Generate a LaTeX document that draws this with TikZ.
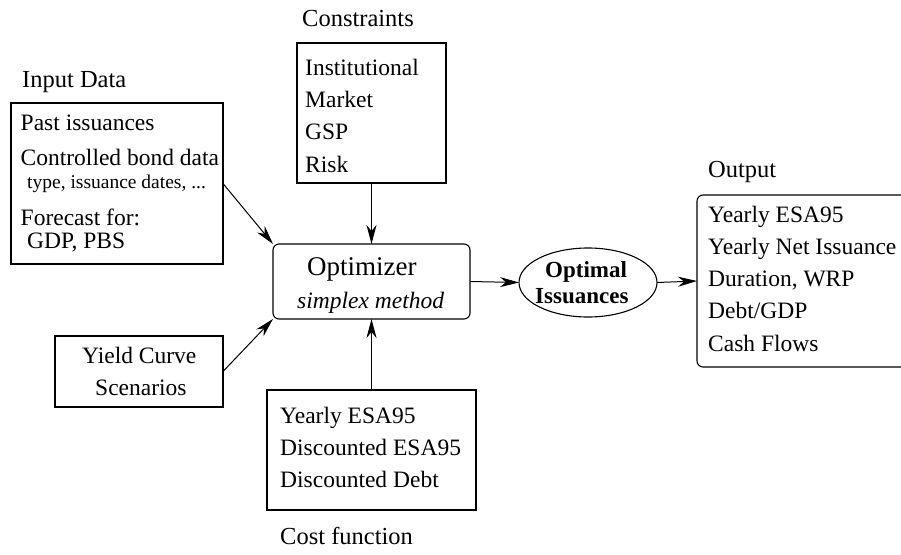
\documentclass[tikz,border=0pt]{standalone}
\usepackage{fontspec}
\setmainfont{Liberation Serif}
\usetikzlibrary{arrows.meta,shapes.geometric}

\tikzset{
  frame/.style={draw=black, line width=1.1pt, inner sep=0pt, outer sep=0pt},
  panel/.style={frame, rectangle},
  softpanel/.style={frame, rectangle, rounded corners=6pt},
  result/.style={frame, ellipse},
  txt/.style={anchor=base west, inner sep=0pt, font=\fontsize{23.5}{28}\selectfont},
  small/.style={anchor=base west, inner sep=0pt, font=\fontsize{19.5}{23}\selectfont},
  title/.style={anchor=base west, inner sep=0pt, font=\fontsize{24.5}{29}\selectfont},
  flow/.style={draw=black, line width=1pt,
    -{Stealth[length=19pt, width=10pt, inset=6pt]}},
}

\begin{document}
\begin{tikzpicture}[x=1pt, y=-1pt]
  \clip (0,0) rectangle (901,554);
  \useasboundingbox (0,0) rectangle (901,554);

  % boxes
  \node[panel, minimum width=149pt, minimum height=140pt] (cons) at (371.5,113) {};
  \node[panel, minimum width=212pt, minimum height=161pt] (inp) at (117,183.5) {};
  \node[panel, minimum width=168pt, minimum height=71pt] (yc) at (139,371.5) {};
  \node[panel, minimum width=209pt, minimum height=120pt] (cost) at (371.5,450) {};
  \node[softpanel, minimum width=197pt, minimum height=75pt] (opt) at (371.5,281.5) {};
  \node[result, minimum width=138pt, minimum height=69pt] (oi) at (588,282.5) {};
  \node[softpanel, minimum width=210pt, minimum height=172pt] (out) at (802,281) {};

  % constraints
  \node[title] (consT) at (302,27) {Constraints};
  \node[txt] (c1) at (305,75) {Institutional};
  \node[txt] (c2) at (305,107.3) {Market};
  \node[txt] (c3) at (305,139.6) {GSP};
  \node[txt] (c4) at (305,172) {Risk};

  % input data
  \node[title] (inpT) at (22,87) {Input Data};
  \node[txt] (i1) at (20.5,130) {Past issuances};
  \node[txt] (i2) at (20.5,165) {Controlled bond data};
  \node[small] (i3) at (27,188) {type, issuance dates, ...};
  \node[txt] (i4) at (20.5,225) {Forecast for:};
  \node[txt] (i5) at (27,248) {GDP, PBS};

  % yield curve
  \node[txt] (y1) at (82,363) {Yield Curve};
  \node[txt] (y2) at (95,395) {Scenarios};

  % optimizer
  \node[anchor=base west, inner sep=0pt, font=\fontsize{27}{32}\selectfont] (o1) at (307,275) {Optimizer};
  \node[anchor=base west, inner sep=0pt, font=\fontsize{23.5}{28}\selectfont\itshape] (o2) at (297,308) {simplex method};

  % optimal issuances
  \node[anchor=base west, inner sep=0pt, font=\fontsize{23}{27}\selectfont\bfseries] (r1) at (545,277) {Optimal};
  \node[anchor=base west, inner sep=0pt, font=\fontsize{23}{27}\selectfont\bfseries] (r2) at (535,303) {Issuances};

  % output
  \node[title] (outT) at (708,177) {Output};
  \node[txt] (u1) at (708,222) {Yearly ESA95};
  \node[txt] (u2) at (708,254) {Yearly Net Issuance};
  \node[txt] (u3) at (708,286) {Duration, WRP};
  \node[txt] (u4) at (708,318) {Debt/GDP};
  \node[txt] (u5) at (708,351) {Cash Flows};

  % cost function
  \node[txt] (k1) at (280,423) {Yearly ESA95};
  \node[txt] (k2) at (280,455) {Discounted ESA95};
  \node[txt] (k3) at (280,487) {Discounted Debt};
  \node[title] (costT) at (280,544) {Cost function};

  % connectors
  \draw[flow] (inp.east) -- (opt.north west);
  \draw[flow] (yc.east) -- (opt.south west);
  \draw[flow] (cons.south) -- (opt.north);
  \draw[flow] (cost.north) -- (opt.south);
  \draw[flow] (opt.east) -- (oi.west);
  \draw[flow] (oi.east) -- (out.west);
\end{tikzpicture}
\end{document}
